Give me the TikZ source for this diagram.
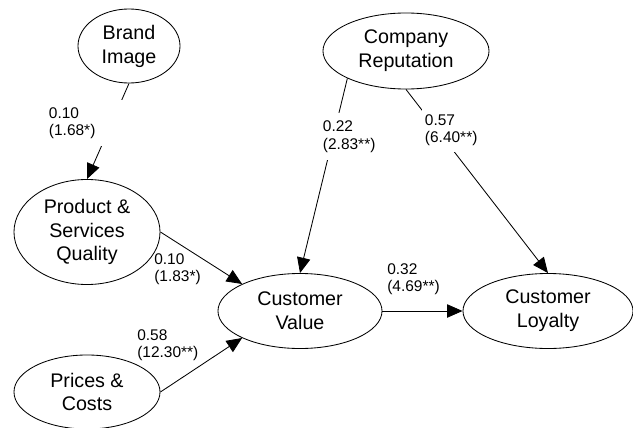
\documentclass[tikz,border=0pt]{standalone}
\usepackage{fontspec}
\setmainfont{Liberation Sans}
\usetikzlibrary{arrows.meta,shapes.geometric}
\tikzset{
  construct/.style={draw, ellipse, line width=0.6pt, inner sep=0pt, align=center, font=\fontsize{14}{17}\selectfont},
  coef/.style={align=left, inner sep=0pt, anchor=north west, font=\fontsize{11}{12.5}\selectfont},
  coefbox/.style={fill=white, inner xsep=0.075cm, inner ysep=0pt, text width=#1, align=left, font=\fontsize{11}{12.5}\selectfont},
  link/.style={-{Triangle[length=11pt,width=9.5pt]}, line width=0.6pt},
}
\begin{document}
\begin{tikzpicture}[x=0.025cm, y=-0.025cm]
    \useasboundingbox (0,0) rectangle (633,428);
    \node[construct, minimum width=2.55cm, minimum height=1.85cm] (brand) at (129,46) {Brand\\Image};
    \node[construct, minimum width=4.15cm, minimum height=1.9cm] (reput) at (406,51) {Company\\Reputation};
    \node[construct, minimum width=3.65cm, minimum height=2.625cm] (quality) at (87,232) {Product \&\\Services\\Quality};
    \node[construct, minimum width=4.1cm, minimum height=1.875cm] (value) at (300,311) {Customer\\Value};
    \node[construct, minimum width=4.25cm, minimum height=1.875cm] (loyalty) at (548,311) {Customer\\Loyalty};
    \node[construct, minimum width=3.65cm, minimum height=1.85cm] (prices) at (87,392) {Prices \&\\Costs};
    \draw[link] (brand.south) -- (quality.north);
    \draw[link] (reput.205) -- (value.north);
    \draw[link] (reput.south) -- (loyalty.north);
    \draw[link] (quality.east) -- (value.155);
    \draw[link] (prices.east) -- (value.205);
    \draw[link] (value.east) -- (loyalty.west);
    \node[coefbox=1.8cm, minimum height=1.15cm] (c1) at (85,123) {0.10\\(1.68*)};
    \node[coefbox=1.35cm, minimum height=1.175cm] (c2) at (350,136.5) {0.22\\(2.83**)};
    \node[coefbox=1.4cm, minimum height=1.1cm] (c3) at (453,130) {0.57\\(6.40**)};
    \node[coef] (c4) at (154,253) {0.10\\(1.83*)};
    \node[coef] (c5) at (137,329) {0.58\\(12.30**)};
    \node[coef] (c6) at (387,263) {0.32\\(4.69**)};
\end{tikzpicture}
\end{document}
